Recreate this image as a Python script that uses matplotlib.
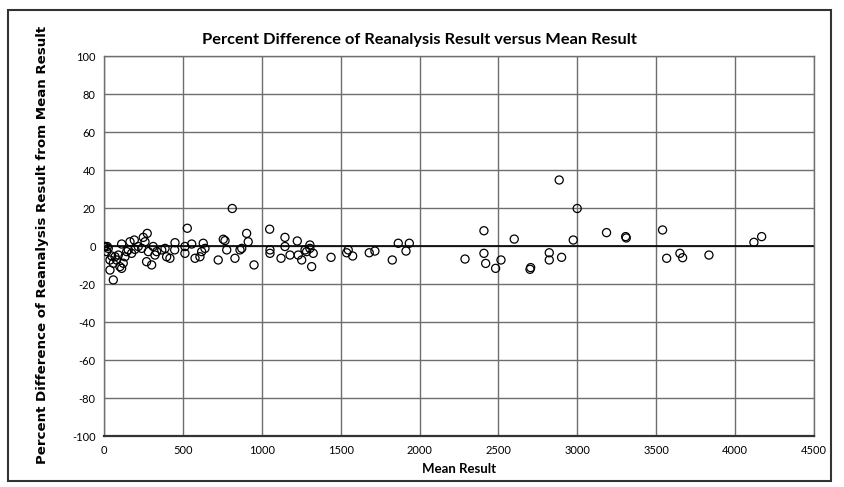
import matplotlib.pyplot as plt
from matplotlib.patches import Rectangle

# mean result of each sample and percent difference of the reanalysis
mean_result = [
    0, 6, 17, 21, 27, 38, 38, 49, 59, 59, 70, 80, 91, 101, 112, 112, 122, 133,
    144, 154, 165, 175, 192, 196, 217, 239, 249, 260, 270, 274, 281, 302, 312,
    323, 334, 366, 387, 397, 418, 448, 450, 513, 513, 528, 556, 577, 608, 619,
    629, 640, 724, 756, 767, 778, 813, 830, 862, 873, 904, 914, 951, 1050, 1052,
    1052, 1122, 1147, 1147, 1179, 1225, 1231, 1253, 1274, 1284, 1305, 1305,
    1316, 1326, 1439, 1538, 1548, 1576, 1681, 1717, 1827, 1865, 1914, 1935,
    2288, 2408, 2408, 2419, 2482, 2516, 2600, 2700, 2704, 2822, 2822, 2885,
    2900, 2974, 2999, 3185, 3306, 3310, 3540, 3566, 3650, 3667, 3834, 4119, 4168,
]
pct_diff = [
    0, 0, -2.7, 0, -1, -7.1, -12.4, -5, -8.8, -17.6, -5.4, -7.1, -4.5, -10.6,
    1.3, -11.5, -8.8, -5.4, -2.7, -1.8, 2.5, -3.6, 3.4, -1.5, 0, -1, 4.8, 2.5,
    -8, 6.9, -2.7, -9.7, 0, -4.5, -2.7, -1.8, -1, -5.4, -6.2, -1.8, 2, 0, -3.6,
    9.6, 1.3, -6.2, -5.4, -2.7, 1.7, -1, -7.1, 3.8, 3.1, -1.8, 20, -6.2, -1.8,
    -1, 6.9, 2.5, -9.7, 9.1, -1.8, -3.6, -6.2, 4.8, 0, -4.5, 2.9, -4.5, -7.1,
    -1.8, -2.7, 0.8, -1, -10.6, -3.6, -5.7, -3.3, -1.8, -5, -3.3, -2.4, -7.1,
    1.7, -2.4, 1.7, -6.6, 8.3, -3.6, -8.9, -11.5, -7.1, 3.9, -12, -11.1, -3.3,
    -7.1, 35, -5.7, 3.4, 20, 7.3, 5.2, 4.5, 8.7, -6.2, -3.6, -5.9, -4.5, 2.2, 5.2,
]

x_ticks = list(range(0, 4501, 500))
y_ticks = list(range(-100, 101, 20))

plt.rcParams['font.family'] = ['Lato', 'DejaVu Sans']
plt.rcParams['axes.unicode_minus'] = False

fig = plt.figure(figsize=(8.44, 4.87), dpi=100)
ax = fig.add_axes([0.1232, 0.1037, 0.8413, 0.7803])

ax.scatter(mean_result, pct_diff, s=34, facecolors='none', edgecolors='black',
           linewidths=0.9, zorder=3)

ax.set_xlim(0, 4500)
ax.set_ylim(-100, 100)
ax.set_xticks(x_ticks)
ax.set_yticks(y_ticks)
ax.tick_params(length=0, labelsize=8, pad=6)
ax.grid(True, color='#6e6e6e', linewidth=1.0)
ax.set_axisbelow(True)
for side, sp in ax.spines.items():
    sp.set_color('#6e6e6e')
    sp.set_linewidth(1.0)
ax.spines['bottom'].set_color('#333333')
ax.spines['bottom'].set_linewidth(1.6)
ax.axhline(0, color='black', linewidth=1.2, zorder=2)

fig.text(0.497, 0.918, 'Percent Difference of Reanalysis Result versus Mean Result',
         ha='center', va='center', fontsize=11.8, fontweight='bold')
ax.set_xlabel('Mean Result', fontsize=9.5, fontweight='bold', labelpad=5)
fig.text(0.050, 0.497, 'Percent Difference of Reanalysis Result from Mean Result',
         rotation=90, ha='center', va='center', fontsize=9.6,
         fontweight='bold', family='DejaVu Sans')

# chart area border
fig.patches.append(Rectangle((0.010, 0.013), 0.975, 0.967, transform=fig.transFigure,
                             fill=False, edgecolor='#333333', linewidth=1.5))

fig.savefig('out.png', dpi=100)
